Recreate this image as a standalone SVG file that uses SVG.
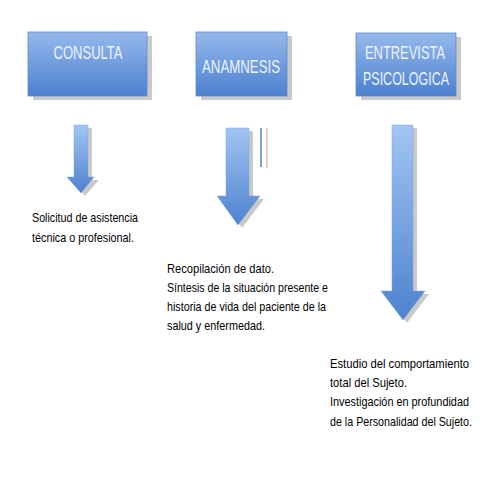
<svg xmlns="http://www.w3.org/2000/svg" width="480" height="480" viewBox="0 0 480 480">
<defs>
<linearGradient id="gBox" x1="0" y1="0" x2="0" y2="1">
<stop offset="0" stop-color="#96b9ec"/>
<stop offset="1" stop-color="#4c80cf"/>
</linearGradient>
<linearGradient id="gArr" x1="0" y1="0" x2="0" y2="1">
<stop offset="0" stop-color="#a3c5f2"/>
<stop offset="1" stop-color="#4d82cf"/>
</linearGradient>
</defs>
<style>
.box{fill:url(#gBox);stroke:#5d8bd0;stroke-width:0.8}
.sh{fill:#c9c9c9}
.arr{fill:url(#gArr);stroke:#7aa4e0;stroke-width:0.5}
.bt{font-family:"Liberation Sans",Arial,sans-serif;font-size:18px;fill:#eef4fc;text-anchor:middle}
.tx{font-family:"Liberation Sans",Arial,sans-serif;font-size:13.5px;fill:#000}
</style>
<rect width="480" height="480" fill="#fff"/>
<g id="consulta">
<rect class="sh" x="33" y="36" width="119" height="64"/>
<rect class="box" x="28" y="32" width="119" height="64"/>
<text class="bt" x="88" y="59" textLength="69" lengthAdjust="spacingAndGlyphs">CONSULTA</text>
</g>
<g id="anamnesis">
<rect class="sh" x="201" y="36" width="91" height="64"/>
<rect class="box" x="196" y="32" width="91" height="64"/>
<text class="bt" x="241" y="73" textLength="78" lengthAdjust="spacingAndGlyphs">ANAMNESIS</text>
</g>
<g id="entrevista">
<rect class="sh" x="361" y="37" width="100" height="63"/>
<rect class="box" x="356" y="33" width="100" height="63"/>
<text class="bt" x="405" y="59" textLength="80" lengthAdjust="spacingAndGlyphs">ENTREVISTA</text>
<text class="bt" x="406" y="85" textLength="86" lengthAdjust="spacingAndGlyphs">PSICOLOGICA</text>
</g>
<g id="connectors">
<path class="sh" d="M78 128 H92 V180 H99 L85 196 L71 180 H78 Z"/>
<path class="arr" d="M74 125 H88 V177 H94 L81 193 L67 177 H74 Z"/>
<path class="sh" d="M230 131 H253 V199 H264 L242 228 L221 199 H230 Z"/>
<path class="arr" d="M226 128 H249 V196 H260 L238 225 L217 196 H226 Z"/>
<line x1="261" y1="128" x2="261" y2="167" stroke="#4f81c9" stroke-width="1.5"/>
<line x1="267" y1="128" x2="267" y2="168" stroke="#c9c9c9" stroke-width="1.5"/>
<path class="sh" d="M396 128 H417 V294 H429 L407 323 L385 294 H396 Z"/>
<path class="arr" d="M392 125 H413 V291 H425 L403 320 L381 291 H392 Z"/>
</g>
<g id="text1">
<text class="tx" x="32" y="222" textLength="106" lengthAdjust="spacingAndGlyphs">Solicitud de asistencia</text>
<text class="tx" x="32" y="242" textLength="102" lengthAdjust="spacingAndGlyphs">técnica o profesional.</text>
</g>
<g id="text2">
<text class="tx" x="167" y="273" textLength="107" lengthAdjust="spacingAndGlyphs">Recopilación de dato.</text>
<text class="tx" x="167" y="292" textLength="161" lengthAdjust="spacingAndGlyphs">Síntesis de la situación presente e</text>
<text class="tx" x="167" y="311" textLength="159" lengthAdjust="spacingAndGlyphs">historia de vida del paciente de la</text>
<text class="tx" x="167" y="330" textLength="98" lengthAdjust="spacingAndGlyphs">salud y enfermedad.</text>
</g>
<g id="text3">
<text class="tx" x="330" y="368" textLength="139" lengthAdjust="spacingAndGlyphs">Estudio  del comportamiento</text>
<text class="tx" x="330" y="387" textLength="77" lengthAdjust="spacingAndGlyphs">total del Sujeto.</text>
<text class="tx" x="330" y="406" textLength="139" lengthAdjust="spacingAndGlyphs">Investigación en profundidad</text>
<text class="tx" x="330" y="426" textLength="142" lengthAdjust="spacingAndGlyphs">de la Personalidad del Sujeto.</text>
</g>
</svg>
